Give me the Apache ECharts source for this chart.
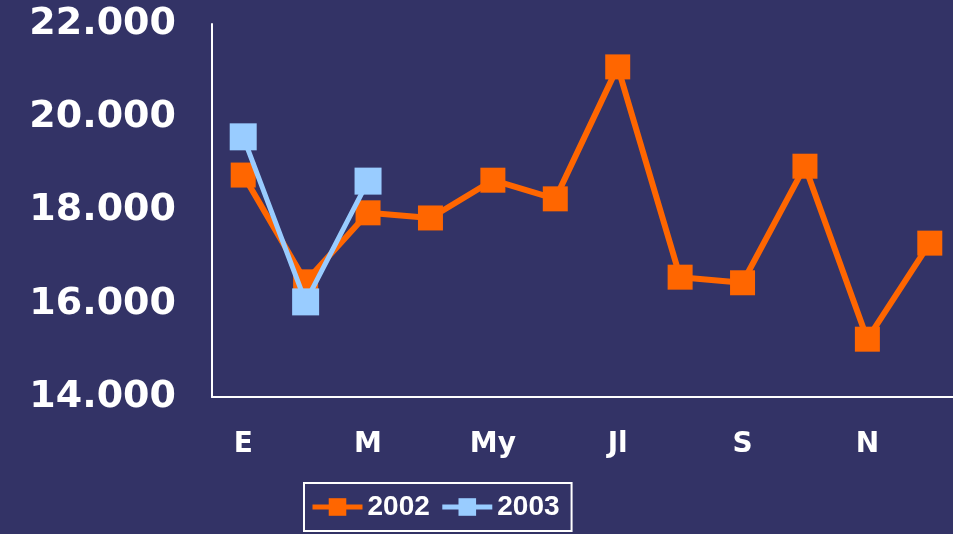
<!DOCTYPE html>
<html>
<head>
<meta charset="utf-8">
<script src="https://cdn.jsdelivr.net/npm/echarts@6/dist/echarts.min.js"></script>
<style>
  html, body { margin: 0; padding: 0; background: #333366; overflow: hidden; }
  #chart { width: 970px; height: 534px; }
</style>
</head>
<body>
<div id="chart"></div>
<script>
// meses (etiqueta visible cada dos)
const months = ['E', 'F', 'M', 'A', 'My', 'Jn', 'Jl', 'Ag', 'S', 'O', 'N', 'D'];
const values2002 = [18760, 16470, 17950, 17840, 18650, 18250, 21080, 16570, 16450, 18950, 15240, 17300];
const values2003 = [19580, 16040, 18630];

const chart = echarts.init(document.getElementById('chart'));

chart.setOption({
  backgroundColor: '#333366',
  animation: false,
  textStyle: { fontFamily: 'DejaVu Sans' },
  grid: { left: 212, top: 24, width: 749, height: 373 },
  legend: {
    left: 304,
    top: 483,
    padding: [10, 12, 10, 6],
    borderColor: '#ffffff',
    borderWidth: 2,
    itemWidth: 50,
    itemHeight: 22,
    itemGap: 10,
    lineStyle: { width: 5 },
    textStyle: { color: '#ffffff', fontSize: 28, fontWeight: 'bold', fontFamily: 'Liberation Sans' },
    data: ['2002', '2003']
  },
  xAxis: {
    type: 'category',
    data: months,
    boundaryGap: true,
    axisLine: { lineStyle: { color: '#ffffff', width: 2 } },
    axisTick: { show: false },
    axisLabel: {
      interval: 1,
      color: '#ffffff',
      fontSize: 28,
      fontWeight: 'bold',
      margin: 34
    }
  },
  yAxis: {
    type: 'value',
    min: 14000,
    max: 22000,
    interval: 2000,
    axisLine: { show: true, lineStyle: { color: '#ffffff', width: 2 } },
    axisTick: { show: false },
    splitLine: { show: false },
    axisLabel: {
      color: '#ffffff',
      fontSize: 38,
      fontWeight: 'bold',
      margin: 36,
      formatter: function (v) { return v.toLocaleString('de-DE'); }
    }
  },
  series: [
    {
      name: '2002',
      type: 'line',
      data: values2002,
      symbol: 'rect',
      symbolSize: 25,
      color: '#ff6600',
      lineStyle: { width: 6, color: '#ff6600' },
      itemStyle: { color: '#ff6600' },
      z: 2
    },
    {
      name: '2003',
      type: 'line',
      data: values2003,
      symbol: 'rect',
      symbolSize: 27,
      color: '#99ccff',
      lineStyle: { width: 5, color: '#99ccff' },
      itemStyle: { color: '#99ccff' },
      z: 3
    }
  ]
});
</script>
</body>
</html>
